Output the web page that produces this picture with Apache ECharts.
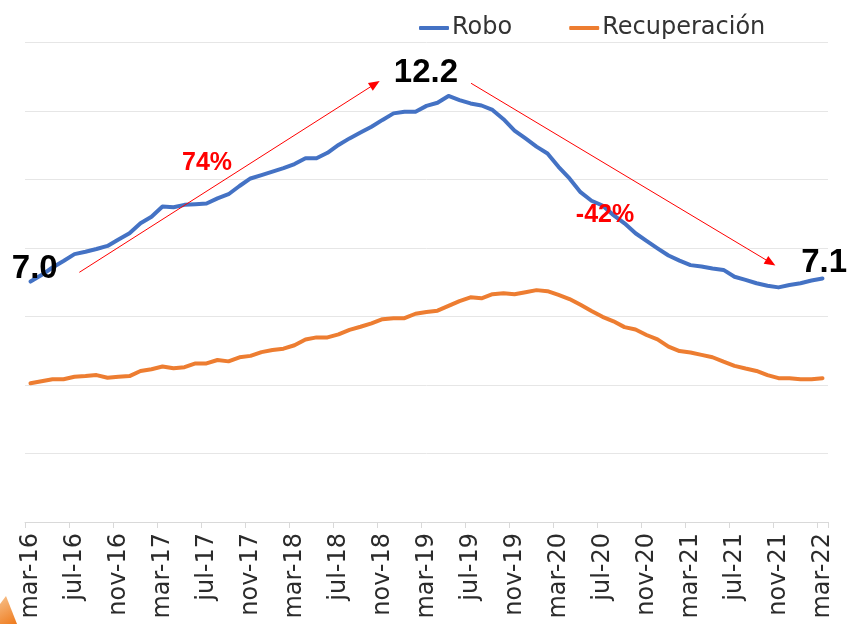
<!DOCTYPE html>
<html><head><meta charset="utf-8">
<script src="https://cdn.jsdelivr.net/npm/echarts@6/dist/echarts.min.js"></script>
<style>html,body{margin:0;padding:0;background:#fff}#c{width:848px;height:624px}</style>
</head><body><div id="c"></div>
<script>
const months = [
  'mar-16','abr-16','may-16','jun-16','jul-16','ago-16','sep-16','oct-16','nov-16','dic-16',
  'ene-17','feb-17','mar-17','abr-17','may-17','jun-17','jul-17','ago-17','sep-17','oct-17','nov-17','dic-17',
  'ene-18','feb-18','mar-18','abr-18','may-18','jun-18','jul-18','ago-18','sep-18','oct-18','nov-18','dic-18',
  'ene-19','feb-19','mar-19','abr-19','may-19','jun-19','jul-19','ago-19','sep-19','oct-19','nov-19','dic-19',
  'ene-20','feb-20','mar-20','abr-20','may-20','jun-20','jul-20','ago-20','sep-20','oct-20','nov-20','dic-20',
  'ene-21','feb-21','mar-21','abr-21','may-21','jun-21','jul-21','ago-21','sep-21','oct-21','nov-21','dic-21',
  'ene-22','feb-22','mar-22'
];
const robo = [
  7.02,7.21,7.43,7.62,7.82,7.89,7.97,8.06,8.25,8.43,
  8.72,8.91,9.21,9.19,9.26,9.28,9.30,9.45,9.57,9.81,
  10.03,10.13,10.23,10.33,10.45,10.62,10.62,10.78,11.01,11.20,
  11.37,11.54,11.74,11.93,11.98,11.98,12.15,12.24,12.44,12.32,
  12.22,12.16,12.03,11.76,11.43,11.20,10.96,10.76,10.37,10.03,
  9.63,9.38,9.24,8.96,8.72,8.43,8.21,7.99,7.78,7.63,
  7.50,7.46,7.40,7.36,7.16,7.07,6.97,6.90,6.85,6.92,
  6.97,7.05,7.11
];
const recuperacion = [
  4.05,4.11,4.17,4.17,4.24,4.26,4.29,4.21,4.24,4.26,
  4.41,4.46,4.54,4.49,4.52,4.63,4.63,4.73,4.69,4.81,
  4.85,4.96,5.02,5.06,5.16,5.33,5.39,5.39,5.48,5.61,
  5.70,5.80,5.92,5.95,5.95,6.08,6.13,6.17,6.31,6.45,
  6.56,6.53,6.65,6.68,6.65,6.71,6.77,6.74,6.63,6.51,
  6.34,6.16,5.99,5.86,5.69,5.62,5.46,5.33,5.12,4.99,
  4.95,4.88,4.81,4.68,4.56,4.48,4.41,4.29,4.20,4.20,
  4.17,4.17,4.20
];
const seriesNames = ['Robo', 'Recuperación'];
const yMin = 0, yMax = 14, yStep = 2;
// annotation texts: [month index position, value position, text]
const valueLabels = [
  [0.39, 7.40, '7.0'],
  [35.95, 13.10, '12.2'],
  [72.15, 7.56, '7.1']
];
const changeLabels = [
  [16.05, 10.47, '74%'],
  [52.23, 8.97, '-42%']
];
// arrows: [startIdx, startVal, endIdx, endVal]
const arrows = [
  [4.44, 7.29, 31.32, 12.79],
  [40.05, 12.81, 67.29, 7.57]
];

const chart = echarts.init(document.getElementById('c'), null, {renderer: 'canvas'});
const txtFont = 'DejaVu Sans';
const numFont = 'Liberation Sans';

const markPts = valueLabels.map(a => ({
  coord: [a[0], a[1]],
  label: {show: true, position: 'inside', formatter: a[2], color: '#000', fontFamily: numFont, fontWeight: 'bold', fontSize: 33}
})).concat(changeLabels.map(a => ({
  coord: [a[0], a[1]],
  label: {show: true, position: 'inside', formatter: a[2], color: '#ff0000', fontFamily: numFont, fontWeight: 'bold', fontSize: 25}
})));

const option = {
  animation: false,
  backgroundColor: '#ffffff',
  grid: {left: 25, right: 20, top: 42.5, bottom: 102, containLabel: false, outerBoundsMode: 'none'},
  legend: {
    data: seriesNames,
    left: 414, top: 11,
    icon: 'roundRect', itemWidth: 30, itemHeight: 4, itemGap: 57,
    textStyle: {fontFamily: txtFont, fontSize: 24, color: '#333333', padding: [0, 0, 0, -2]}
  },
  xAxis: [{
    type: 'category', data: months, boundaryGap: true,
    axisLine: {lineStyle: {color: '#d9d9d9', width: 1}},
    axisTick: {show: true, interval: 3, length: 6, lineStyle: {color: '#d9d9d9'}},
    axisLabel: {interval: 3, rotate: 90, margin: 11, fontFamily: txtFont, fontSize: 24, color: '#2b2b2b'},
    splitLine: {show: false}
  }, {
    type: 'value', min: -0.5, max: months.length - 0.5, show: false
  }],
  yAxis: {
    type: 'value', min: yMin, max: yMax, interval: yStep,
    axisLabel: {show: false}, axisLine: {show: false}, axisTick: {show: false},
    splitLine: {lineStyle: {color: '#e6e6e6', width: 1}}
  },
  series: [{
    name: seriesNames[0], type: 'line', data: robo, symbol: 'none', z: 3,
    itemStyle: {color: '#4472C4'}, lineStyle: {color: '#4472C4', width: 4, cap: 'round', join: 'round'}
  }, {
    name: seriesNames[1], type: 'line', data: recuperacion, symbol: 'none', z: 2,
    itemStyle: {color: '#ED7D31'}, lineStyle: {color: '#ED7D31', width: 4, cap: 'round', join: 'round'}
  }, {
    name: 'anot', type: 'line', xAxisIndex: 1, data: [], symbol: 'none', z: 5, silent: true,
    markLine: {
      silent: true, symbol: ['none', 'triangle'], symbolSize: [9, 11],
      lineStyle: {color: '#ff0000', width: 1, type: 'solid'},
      label: {show: false},
      data: arrows.map(a => [{coord: [a[0], a[1]]}, {coord: [a[2], a[3]]}])
    },
    markPoint: {
      silent: true, symbol: 'circle', symbolSize: 1,
      itemStyle: {color: 'rgba(0,0,0,0)'},
      data: markPts
    }
  }],
  graphic: [{
    type: 'polygon', silent: true, z: -1,
    shape: {points: [[0, 604], [6, 596], [17, 624], [0, 624]]},
    style: {fill: new echarts.graphic.LinearGradient(0, 0, 1, 1, [{offset: 0, color: '#f7c08a'}, {offset: 1, color: '#ee7a1c'}])}
  }]
};
chart.setOption(option);
</script>
</body></html>
